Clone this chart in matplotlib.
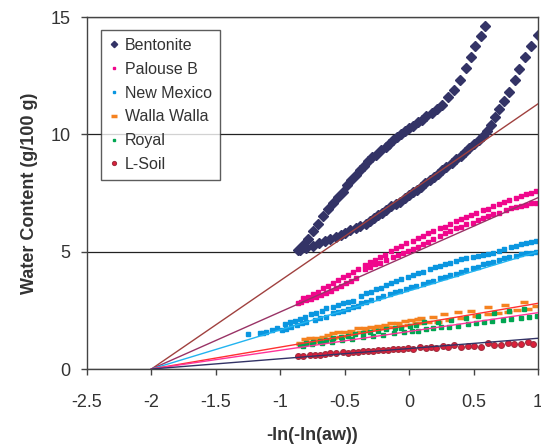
import matplotlib
matplotlib.use('Agg')
import matplotlib.pyplot as plt

plt.rcParams['font.family'] = ['Liberation Sans', 'DejaVu Sans']

# Bentonite: two branches (lower / upper)
bent_lo_x = [-0.849, -0.797, -0.746, -0.699, -0.655, -0.611, -0.565, -0.526, -0.495, -0.456,
             -0.415, -0.384, -0.337, -0.306, -0.275, -0.242, -0.208, -0.177, -0.138, -0.105,
             -0.074, -0.035, -0.001, 0.030, 0.061, 0.094, 0.120, 0.159, 0.190, 0.223,
             0.254, 0.288, 0.332, 0.366, 0.399, 0.433, 0.464, 0.502, 0.539, 0.572,
             0.603, 0.637, 0.670, 0.701, 0.740, 0.774, 0.818, 0.856, 0.900, 0.947, 0.999]
bent_lo_y = [5.07, 5.14, 5.24, 5.35, 5.44, 5.52, 5.62, 5.71, 5.78, 5.92,
             6.02, 6.09, 6.20, 6.29, 6.42, 6.56, 6.66, 6.77, 6.94, 7.03,
             7.13, 7.27, 7.41, 7.55, 7.65, 7.77, 7.91, 8.05, 8.19, 8.33,
             8.48, 8.62, 8.76, 8.93, 9.09, 9.26, 9.44, 9.61, 9.75, 9.92,
             10.14, 10.42, 10.75, 11.06, 11.42, 11.79, 12.31, 12.78, 13.28, 13.77, 14.23]
bent_up_x = [-0.862, -0.823, -0.784, -0.746, -0.707, -0.668, -0.629, -0.591, -0.552, -0.513,
             -0.482, -0.448, -0.415, -0.384, -0.353, -0.319, -0.286, -0.255, -0.216, -0.182,
             -0.156, -0.125, -0.094, -0.066, -0.035, -0.001, 0.030, 0.068, 0.102, 0.133,
             0.177, 0.216, 0.257, 0.301, 0.348, 0.397, 0.438, 0.477, 0.513, 0.554, 0.590]
bent_up_y = [5.07, 5.28, 5.56, 5.89, 6.20, 6.52, 6.80, 7.06, 7.34, 7.55,
             7.84, 8.05, 8.26, 8.48, 8.66, 8.87, 9.04, 9.14, 9.33, 9.47,
             9.61, 9.78, 9.90, 10.01, 10.14, 10.29, 10.36, 10.51, 10.61, 10.78,
             10.92, 11.10, 11.27, 11.60, 11.91, 12.31, 12.81, 13.28, 13.77, 14.21, 14.63]

# Palouse B
pal_up_x = [-0.862, -0.823, -0.784, -0.745, -0.707, -0.668, -0.629, -0.590, -0.552, -0.513,
            -0.474, -0.435, -0.397, -0.345, -0.306, -0.268, -0.229, -0.190, -0.139, -0.100,
            -0.061, -0.022, 0.029, 0.068, 0.107, 0.146, 0.184, 0.236, 0.275, 0.314,
            0.365, 0.404, 0.443, 0.482, 0.520, 0.572, 0.611, 0.650, 0.701, 0.740,
            0.779, 0.830, 0.869, 0.908, 0.947, 0.986]
pal_up_y = [2.80, 3.01, 3.08, 3.20, 3.30, 3.44, 3.54, 3.65, 3.79, 3.91,
            4.00, 4.15, 4.25, 4.43, 4.54, 4.64, 4.76, 4.86, 5.04, 5.14,
            5.24, 5.35, 5.45, 5.57, 5.68, 5.78, 5.88, 5.99, 6.06, 6.18,
            6.30, 6.38, 6.46, 6.56, 6.66, 6.77, 6.84, 6.94, 7.03, 7.10,
            7.20, 7.30, 7.37, 7.46, 7.51, 7.58]
pal_lo_x = [-0.836, -0.797, -0.758, -0.720, -0.681, -0.642, -0.603, -0.565, -0.526, -0.487,
            -0.448, -0.410, -0.345, -0.306, -0.268, -0.229, -0.177, -0.126, -0.087, -0.048,
            -0.009, 0.029, 0.068, 0.107, 0.146, 0.184, 0.236, 0.275, 0.314, 0.365,
            0.404, 0.443, 0.495, 0.533, 0.572, 0.611, 0.650, 0.701, 0.753, 0.792,
            0.830, 0.869, 0.908, 0.947, 0.986]
pal_lo_y = [2.87, 2.94, 2.97, 3.05, 3.15, 3.22, 3.34, 3.44, 3.54, 3.65,
            3.75, 3.86, 4.25, 4.36, 4.46, 4.53, 4.64, 4.76, 4.86, 4.96,
            5.03, 5.11, 5.21, 5.33, 5.41, 5.52, 5.67, 5.78, 5.88, 5.99,
            6.06, 6.16, 6.23, 6.35, 6.42, 6.52, 6.59, 6.67, 6.77, 6.85,
            6.92, 6.96, 7.00, 7.06, 7.09]

# New Mexico
nm_up_x = [-1.249, -1.158, -1.133, -1.107, -1.068, -1.029, -0.965, -0.926, -0.887, -0.848,
           -0.810, -0.758, -0.719, -0.680, -0.642, -0.590, -0.551, -0.512, -0.474, -0.435,
           -0.371, -0.332, -0.294, -0.255, -0.216, -0.177, -0.139, -0.100, -0.061, -0.009,
           0.029, 0.068, 0.107, 0.159, 0.197, 0.236, 0.275, 0.314, 0.365, 0.404,
           0.443, 0.495, 0.533, 0.572, 0.611, 0.650, 0.701, 0.740, 0.792, 0.830,
           0.869, 0.908, 0.947, 0.986]
nm_up_y = [1.48, 1.52, 1.55, 1.59, 1.66, 1.76, 1.92, 1.99, 2.06, 2.13,
           2.23, 2.33, 2.40, 2.48, 2.58, 2.66, 2.73, 2.80, 2.84, 2.91,
           3.11, 3.22, 3.29, 3.39, 3.46, 3.58, 3.65, 3.75, 3.83, 3.91,
           4.00, 4.08, 4.15, 4.25, 4.33, 4.39, 4.46, 4.53, 4.61, 4.67,
           4.71, 4.76, 4.81, 4.86, 4.90, 4.96, 5.04, 5.10, 5.18, 5.24,
           5.33, 5.38, 5.43, 5.47]
nm_lo_x = [-0.990, -0.952, -0.913, -0.874, -0.835, -0.797, -0.732, -0.693, -0.642, -0.590,
           -0.551, -0.512, -0.474, -0.435, -0.396, -0.371, -0.332, -0.294, -0.242, -0.203,
           -0.151, -0.113, -0.074, -0.022, 0.017, 0.055, 0.107, 0.146, 0.184, 0.236,
           0.275, 0.314, 0.365, 0.404, 0.443, 0.495, 0.533, 0.572, 0.611, 0.650,
           0.701, 0.740, 0.779, 0.830, 0.869, 0.908, 0.947, 0.986]
nm_lo_y = [1.66, 1.70, 1.80, 1.87, 1.95, 1.99, 2.09, 2.16, 2.23, 2.37,
           2.41, 2.49, 2.56, 2.63, 2.68, 2.80, 2.87, 2.94, 3.04, 3.11,
           3.20, 3.27, 3.34, 3.41, 3.48, 3.54, 3.62, 3.69, 3.76, 3.86,
           3.93, 4.00, 4.07, 4.15, 4.22, 4.29, 4.36, 4.46, 4.50, 4.54,
           4.64, 4.71, 4.76, 4.83, 4.89, 4.93, 4.96, 5.00]

# Walla Walla
ww_up_x = [-0.848, -0.810, -0.772, -0.720, -0.668, -0.630, -0.591, -0.552, -0.500, -0.449,
           -0.397, -0.345, -0.294, -0.242, -0.190, -0.139, -0.087, -0.035, 0.016, 0.068,
           0.092, 0.182, 0.268, 0.376, 0.479, 0.609, 0.743, 0.893]
ww_up_y = [1.12, 1.28, 1.31, 1.34, 1.38, 1.45, 1.52, 1.56, 1.56, 1.62,
           1.73, 1.76, 1.80, 1.85, 1.87, 1.96, 1.96, 2.05, 2.09, 2.12,
           2.16, 2.23, 2.33, 2.44, 2.47, 2.63, 2.73, 2.87]
ww_lo_x = [-0.849, -0.798, -0.746, -0.694, -0.643, -0.591, -0.539, -0.487, -0.436, -0.384,
           -0.332, -0.268, -0.203, -0.139, -0.074, -0.009, 0.055, 0.079, 0.144, 0.221,
           0.311, 0.402, 0.518, 0.609, 0.686, 0.764, 0.841, 0.919, 0.983]
ww_lo_y = [1.05, 1.09, 1.16, 1.19, 1.26, 1.31, 1.35, 1.42, 1.48, 1.56,
           1.62, 1.69, 1.73, 1.78, 1.83, 1.87, 1.95, 1.95, 2.02, 1.99,
           2.09, 2.19, 2.27, 2.33, 2.37, 2.44, 2.51, 2.56, 2.70]

# Royal
roy_up_x = [-0.849, -0.798, -0.746, -0.694, -0.643, -0.591, -0.526, -0.475, -0.423, -0.358,
            -0.307, -0.242, -0.177, -0.113, -0.061, 0.003, 0.055, 0.118, 0.221, 0.324,
            0.441, 0.531, 0.660, 0.777, 0.893]
roy_up_y = [1.02, 1.09, 1.14, 1.19, 1.24, 1.31, 1.38, 1.42, 1.48, 1.52,
            1.59, 1.63, 1.69, 1.73, 1.76, 1.83, 1.87, 1.99, 2.02, 2.09,
            2.16, 2.27, 2.37, 2.47, 2.54]
roy_lo_x = [-0.820, -0.750, -0.680, -0.600, -0.520, -0.440, -0.360, -0.280, -0.200, -0.120,
            -0.040, 0.020, 0.066, 0.131, 0.182, 0.247, 0.311, 0.376, 0.454, 0.518,
            0.583, 0.647, 0.725, 0.790, 0.867, 0.932, 0.996]
roy_lo_y = [1.00, 1.05, 1.10, 1.17, 1.24, 1.30, 1.36, 1.42, 1.47, 1.52,
            1.57, 1.60, 1.62, 1.70, 1.73, 1.78, 1.80, 1.85, 1.90, 1.95,
            2.02, 2.05, 2.09, 2.12, 2.16, 2.22, 2.24]

# L-Soil
ls_x = [-0.861, -0.823, -0.771, -0.732, -0.693, -0.655, -0.616, -0.564, -0.512, -0.474,
        -0.435, -0.396, -0.357, -0.319, -0.280, -0.241, -0.202, -0.164, -0.126, -0.087,
        -0.048, -0.009, 0.029, 0.081, 0.133, 0.172, 0.210, 0.262, 0.301, 0.352,
        0.404, 0.456, 0.507, 0.559, 0.611, 0.662, 0.714, 0.766, 0.817, 0.869,
        0.921, 0.960]
ls_y = [0.57, 0.57, 0.60, 0.60, 0.60, 0.62, 0.67, 0.70, 0.71, 0.70,
        0.74, 0.74, 0.77, 0.77, 0.78, 0.81, 0.81, 0.81, 0.85, 0.84,
        0.85, 0.88, 0.85, 0.92, 0.88, 0.95, 0.88, 0.98, 0.92, 1.02,
        0.92, 0.98, 0.98, 0.95, 1.09, 1.02, 1.02, 1.12, 1.06, 1.06,
        1.16, 1.06]

# linear fits, all meeting at x = -2
fit_x = [-2.0, 1.0]
fit_end = {'Bentonite': 11.3, 'Palouse B': 7.3, 'New Mexico': 5.0,
           'Walla Walla': 2.8, 'Royal': 2.4, 'L-Soil': 1.31}
fit_colors = {'Bentonite': '#A0413F', 'Palouse B': '#993366', 'New Mexico': '#22B4F0',
              'Walla Walla': '#FF3030', 'Royal': '#FF3399', 'L-Soil': '#333366'}

fig = plt.figure(figsize=(5.41, 4.46), dpi=100)
ax = fig.add_axes([0.1608, 0.1726, 0.8336, 0.7892])

ax.plot(bent_lo_x, bent_lo_y, 'D', color='#333366', ms=4.6, label='Bentonite', ls='none')
ax.plot(bent_up_x, bent_up_y, 'D', color='#333366', ms=4.6, ls='none')
ax.plot(pal_up_x, pal_up_y, 's', color='#F0068C', ms=2.2, label='Palouse B', ls='none')
ax.plot(pal_lo_x, pal_lo_y, 's', color='#F0068C', ms=2.2, ls='none')
ax.plot(nm_up_x, nm_up_y, 's', color='#0A96E0', ms=2.2, label='New Mexico', ls='none')
ax.plot(nm_lo_x, nm_lo_y, 's', color='#0A96E0', ms=2.2, ls='none')
ax.plot(ww_up_x, ww_up_y, '_', color='#F58220', ms=6, mew=2.5, label='Walla Walla', ls='none')
ax.plot(ww_lo_x, ww_lo_y, '_', color='#F58220', ms=6, mew=2.5, ls='none')
ax.plot(roy_up_x, roy_up_y, 's', color='#00A651', ms=3, label='Royal', ls='none')
ax.plot(roy_lo_x, roy_lo_y, 's', color='#00A651', ms=3, ls='none')
ax.plot(ls_x, ls_y, 'o', mfc='#DD1F3A', mec='#A03040', mew=0.8, ms=4.2, label='L-Soil', ls='none')

for name, end in fit_end.items():
    ax.plot(fit_x, [0, end], color=fit_colors[name], lw=1.0, zorder=3)

ax.set_xlim(-2.5, 1)
ax.set_ylim(0, 15)
ax.set_xticks([-2.5, -2, -1.5, -1, -0.5, 0, 0.5, 1])
ax.set_xticklabels(['-2.5', '-2', '-1.5', '-1', '-0.5', '0', '0.5', '1'])
ax.set_yticks([0, 5, 10, 15])
ax.yaxis.grid(True, color='#222222', lw=0.9)
ax.set_axisbelow(True)
for s in ax.spines.values():
    s.set_color('#444444')
    s.set_linewidth(1.0)
ax.tick_params(direction='out', length=4.3, width=1, color='#444444', labelsize=13,
               labelcolor='#333333')
ax.tick_params(axis='x', pad=14)
ax.tick_params(axis='y', pad=7.5)

ax.set_xlabel('-ln(-ln(aw))', fontsize=13, fontweight='bold', color='#333333', labelpad=11)
ax.set_ylabel('Water Content (g/100 g)', fontsize=13, fontweight='bold', color='#333333', labelpad=9)

leg = ax.legend(loc='upper left', bbox_to_anchor=(0.031, 0.963), borderaxespad=0,
                fontsize=11.5, frameon=True, fancybox=False, edgecolor='#333333',
                handlelength=0.6, handletextpad=0.4, labelspacing=0.55, borderpad=0.5,
                markerscale=0.7)
leg.get_frame().set_linewidth(1.0)
for t in leg.get_texts():
    t.set_color('#333333')

fig.savefig('out.png', dpi=100)
